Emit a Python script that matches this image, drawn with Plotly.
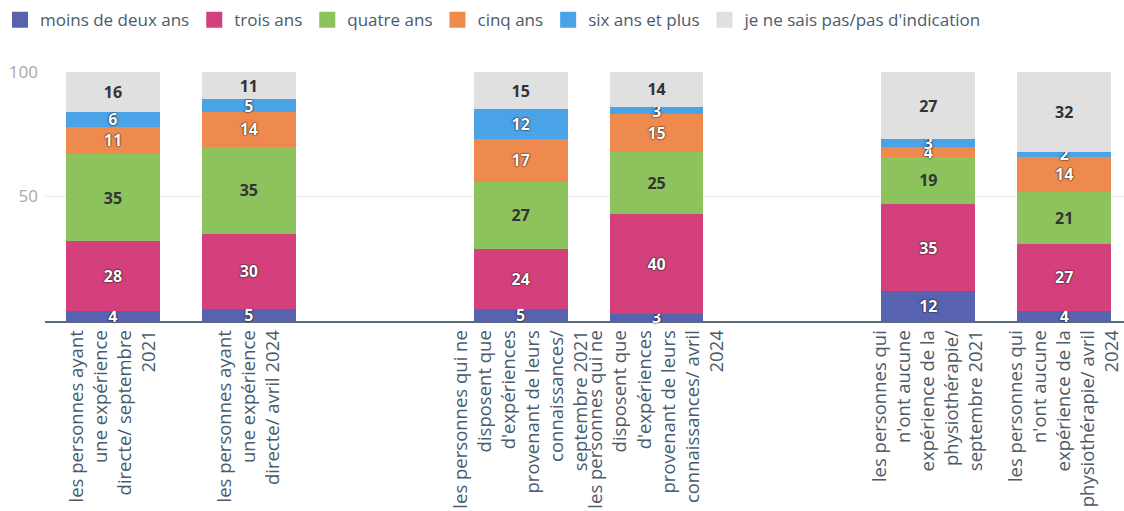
import plotly.graph_objects as go

# Groups of respondents (two survey waves each), with a blank slot between groups
categories = [
    "les personnes ayant<br>une expérience<br>directe/ septembre<br>2021",
    "les personnes ayant<br>une expérience<br>directe/ avril 2024",
    "les personnes qui ne<br>disposent que<br>d'expériences<br>provenant de leurs<br>connaissances/<br>septembre 2021",
    "les personnes qui ne<br>disposent que<br>d'expériences<br>provenant de leurs<br>connaissances/ avril<br>2024",
    "les personnes qui<br>n'ont aucune<br>expérience de la<br>physiothérapie/<br>septembre 2021",
    "les personnes qui<br>n'ont aucune<br>expérience de la<br>physiothérapie/ avril<br>2024",
]
slots = [0, 1, 3, 4, 6, 7]

series_names = [
    "moins de deux ans",
    "trois ans",
    "quatre ans",
    "cinq ans",
    "six ans et plus",
    "je ne sais pas/pas d'indication",
]
moins_de_deux_ans = [4, 5, 5, 3, 12, 4]
trois_ans = [28, 30, 24, 40, 35, 27]
quatre_ans = [35, 35, 27, 25, 19, 21]
cinq_ans = [11, 14, 17, 15, 4, 14]
six_ans_et_plus = [6, 5, 12, 3, 3, 2]
ne_sais_pas = [16, 11, 15, 14, 27, 32]

series_values = [moins_de_deux_ans, trois_ans, quatre_ans, cinq_ans, six_ans_et_plus, ne_sais_pas]
colors = ["#5763b0", "#d3407c", "#8cc35c", "#ee8a4d", "#4aa2e7", "#e0e0e0"]
dark_labels = [False, False, True, False, False, True]

FONT = "Open Sans"
TEXT_COLOR = "#4b5b6b"

fig = go.Figure()
for name, vals, col, dark in zip(series_names, series_values, colors, dark_labels):
    fig.add_trace(go.Bar(
        name=name,
        x=slots,
        y=vals,
        marker=dict(color=col, line=dict(width=0)),
        width=0.69,
        text=[str(v) for v in vals],
        textposition="inside",
        insidetextanchor="middle",
        textangle=0,
        constraintext="none",
        cliponaxis=False,
        textfont=dict(
            family=FONT, size=16, weight="bold",
            color="#333333" if dark else "#ffffff",
            shadow="none" if dark else "0px 0px 2px #000000, 0px 0px 1px #333333",
        ),
        hoverinfo="name+y",
        showlegend=False,
        legendgroup=name,
    ))

# Legend entries with larger square swatches
for name, col in zip(series_names, colors):
    fig.add_trace(go.Scatter(
        name=name,
        x=[None], y=[None],
        mode="markers",
        marker=dict(symbol="square", size=16, color=col),
        legendgroup=name,
        showlegend=True,
        hoverinfo="skip",
    ))

fig.update_layout(
    barmode="stack",
    width=1124,
    height=511,
    margin=dict(l=45, r=0, t=72, b=190),
    paper_bgcolor="white",
    plot_bgcolor="white",
    font=dict(family=FONT, size=16, color=TEXT_COLOR),
    uniformtext=dict(mode="show", minsize=16),
    showlegend=True,
    legend=dict(
        orientation="h",
        xref="container", yref="container",
        x=0.0, xanchor="left",
        y=0.9955, yanchor="top",
        font=dict(family=FONT, size=17, color=TEXT_COLOR),
        itemwidth=30,
        tracegroupgap=0,
        traceorder="normal",
    ),
    xaxis=dict(
        range=[-0.5, 7.44],
        tickmode="array",
        tickvals=slots,
        ticktext=categories,
        tickangle=-90,
        tickfont=dict(family=FONT, size=18.5, color=TEXT_COLOR),
        showgrid=False,
        zeroline=False,
        showline=True,
        linecolor="#5b6b7b",
        linewidth=1.5,
        ticks="",
        automargin=False,
        layer="below traces",
    ),
    yaxis=dict(
        range=[0, 100],
        tickvals=[50, 100],
        tickfont=dict(family=FONT, size=17, color="#a8a8a8"),
        ticklabelstandoff=6,
        showgrid=True,
        gridcolor="#e9e9e9",
        gridwidth=1,
        zeroline=False,
        showline=False,
        ticks="",
        automargin=False,
        layer="below traces",
    ),
)

fig.write_html("out.html")
